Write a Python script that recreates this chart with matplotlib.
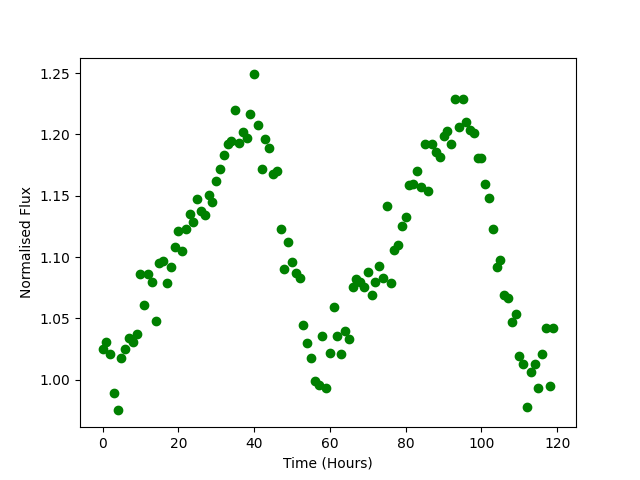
"""
Light curve: normalised flux against time in hours.
"""
import matplotlib
matplotlib.use("Agg")
import matplotlib.pyplot as plt
import numpy as np

# one reading per hour, 0 .. 119
hours = np.arange(120)

flux = [
    1.025, 1.031, 1.021, 0.989, 0.975, 1.018, 1.025, 1.034, 1.031, 1.037,
    1.086, 1.061, 1.086, 1.080, 1.048, 1.095, 1.097, 1.079, 1.092, 1.108,
    1.121, 1.105, 1.123, 1.135, 1.129, 1.147, 1.138, 1.134, 1.151, 1.145,
    1.162, 1.172, 1.183, 1.192, 1.195, 1.220, 1.193, 1.202, 1.197, 1.217,
    1.249, 1.208, 1.172, 1.196, 1.189, 1.168, 1.170, 1.123, 1.090, 1.112,
    1.096, 1.087, 1.083, 1.045, 1.030, 1.018, 0.999, 0.996, 1.036, 0.993,
    1.022, 1.059, 1.036, 1.021, 1.040, 1.033, 1.076, 1.082, 1.080, 1.076,
    1.088, 1.069, 1.080, 1.093, 1.083, 1.142, 1.079, 1.106, 1.110, 1.125,
    1.133, 1.159, 1.160, 1.170, 1.157, 1.192, 1.154, 1.192, 1.186, 1.182,
    1.199, 1.203, 1.192, 1.229, 1.206, 1.229, 1.210, 1.204, 1.201, 1.181,
    1.181, 1.160, 1.148, 1.123, 1.092, 1.098, 1.069, 1.067, 1.047, 1.054,
    1.019, 1.013, 0.978, 1.006, 1.013, 0.993, 1.021, 1.042, 0.995, 1.042,
]

fig = plt.figure(figsize=(6.4, 4.8), dpi=100)
plt.plot(hours, flux, "go")
plt.xlabel("Time (Hours)")
plt.ylabel("Normalised Flux")
plt.savefig("out.png", dpi=100)
plt.close()
